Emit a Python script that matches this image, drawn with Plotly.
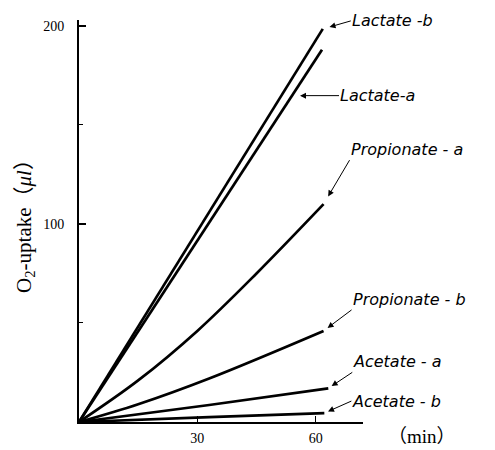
import numpy as np
import plotly.graph_objects as go

# ---- data ----
lact_b_t = [0, 61.8]
lact_b_v = [0, 198.5]
lact_a_t = [0, 61.6]
lact_a_v = [0, 188]
prop_a_t = [0, 15, 30, 45, 62]
prop_a_v = [0, 21, 46, 75, 110]
prop_b_t = [0, 15, 33, 62]
prop_b_v = [0, 9, 22, 46]
acet_a_t = [0, 33, 63.2]
acet_a_v = [0, 8.6, 17]
acet_b_t = [0, 33, 62.2]
acet_b_v = [0, 2.5, 4.5]

series_names = ["Lactate -b", "Lactate-a", "Propionate - a",
                "Propionate - b", "Acetate - a", "Acetate - b"]
series_t = [lact_b_t, lact_a_t, prop_a_t, prop_b_t, acet_a_t, acet_b_t]
series_v = [lact_b_v, lact_a_v, prop_a_v, prop_b_v, acet_a_v, acet_b_v]

x_tickvals = [30, 60]
y_tickvals = [100, 200]
y_minor = [50, 150]

# ---- label styling: (time along line where arrow points, text-anchor dx, dy,
#      yanchor, standoff) ----
label_style = [
    (None, 28, -8, "middle", 7),
    (54.0, 47, 0, "middle", 8),
    (None, 26, -44, "bottom", 9),
    (None, 28, -21, "bottom", 5),
    (None, 24, -16, "bottom", 4),
    (None, 27, -12, "middle", 4),
]

fig = go.Figure()
for t, v in zip(series_t, series_v):
    fig.add_trace(go.Scatter(x=t, y=v, mode="lines",
                             line=dict(color="black", width=2.7,
                                       shape="spline", smoothing=1.0),
                             showlegend=False, hoverinfo="skip"))

hand_font = dict(family="DejaVu Sans", size=16, color="black")
anns = []
for name, t, v, st in zip(series_names, series_t, series_v, label_style):
    at, adx, ady, yanc, so = st
    if at is None:
        px, py = t[-1], v[-1]
    else:
        px, py = at, float(np.interp(at, t, v))
    anns.append(dict(x=px, y=py, xref="x", yref="y",
                     text="<i>" + name + "</i>", showarrow=True,
                     ax=adx, ay=ady, arrowhead=2, arrowsize=1.2, arrowwidth=1,
                     arrowcolor="black", standoff=so,
                     xanchor="left", yanchor=yanc, borderpad=0,
                     font=hand_font))

anns.append(dict(x=1.08, y=-0.037, xref="paper", yref="paper", text="（min）",
                 showarrow=False, xanchor="left", yanchor="middle",
                 font=dict(family="Liberation Serif, Noto Sans CJK JP",
                           size=19, color="black")))

fig.update_layout(
    width=495, height=450,
    margin=dict(l=79, r=132, t=20, b=28, autoexpand=False),
    paper_bgcolor="white", plot_bgcolor="white",
    annotations=anns,
    xaxis=dict(range=[0, 72], showgrid=False, zeroline=False,
               showline=True, linecolor="black", linewidth=2,
               tickmode="array", tickvals=x_tickvals,
               ticks="inside", ticklen=6, tickcolor="black", tickwidth=1,
               ticklabelstandoff=2,
               tickfont=dict(family="Liberation Serif", size=14, color="black")),
    yaxis=dict(range=[0, 203], showgrid=False, zeroline=False,
               showline=True, linecolor="black", linewidth=2,
               tickmode="array", tickvals=y_tickvals,
               ticks="inside", ticklen=7, tickcolor="black", tickwidth=1.5,
               minor=dict(tickmode="array", tickvals=y_minor, ticks="inside",
                          ticklen=4, tickcolor="black", tickwidth=1),
               ticklabelstandoff=10,
               tickfont=dict(family="Liberation Serif", size=14, color="black"),
               title=dict(text="O<sub>2</sub>-uptake（<i>μl</i>）", standoff=6,
                          font=dict(family="Liberation Serif, Noto Sans CJK JP",
                                    size=21, color="black"))),
)

fig.write_html("out.html", config={"displayModeBar": False},
               post_script="document.body.style.margin='0';")
